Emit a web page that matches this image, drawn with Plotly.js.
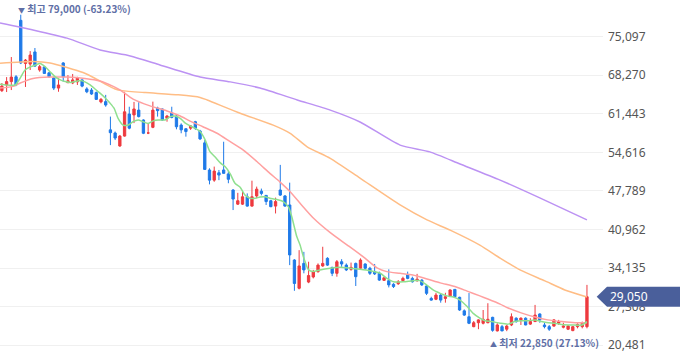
<!DOCTYPE html>
<html><head><meta charset="utf-8">
<script src="https://cdn.plot.ly/plotly-3.0.1.min.js"></script>
<style>html,body{margin:0;padding:0;background:#fff}#chart{width:680px;height:358px}</style>
</head><body><div id="chart"></div>
<script>
// OHLC, one candle per trading day (index 0..124)
const openP  = [65550,66550,67150,68000,78000,70350,70250,72400,69200,69750,68700,67800,66000,70450,66950,66900,67100,67450,65850,65650,65200,63550,63600,58600,58050,55750,57500,61400,61250,62100,60350,58050,59050,62450,62300,60650,61600,61050,59450,58800,58900,60050,58400,56300,51500,49700,51000,51500,50800,47950,45450,45450,46750,45100,46900,47750,47000,46050,45100,47950,46900,45300,35550,30550,34950,31650,32550,33500,34500,35850,34250,33200,35250,34650,33900,34950,34100,34850,34100,33500,33200,31950,31900,31250,31350,31900,32900,32300,31900,32000,30950,28750,28600,29350,28750,29200,30350,28950,26550,25500,23750,24450,24350,24450,25400,23000,23750,23300,24050,25250,24950,25250,24200,24650,26000,24050,23750,23850,24350,23650,23300,23050,23750,23750,23750];
const highP  = [66900,67950,71500,68300,79000,71150,72550,73100,70100,69900,68850,68000,67800,70600,68300,68500,68000,67550,66150,66000,65400,64250,64800,60950,58300,57700,65350,62700,63550,63500,60450,59800,63600,62700,62400,61250,62700,61250,59750,58850,59450,60200,58600,56800,51800,52100,51500,56500,51350,48100,47450,47650,47350,49600,48550,48200,47050,46200,46600,52400,47050,49250,35700,37300,37000,35250,33800,34950,37900,36050,34350,35550,35700,34950,35100,35100,35850,34950,34350,34850,33500,32600,33900,31450,32000,32600,33500,32600,33100,32150,31150,29050,29750,29550,29750,30350,30400,29050,26800,29700,24750,25050,26700,27900,25500,24350,24050,24050,26100,25400,25400,25400,25250,27600,26100,24450,24050,25050,24950,24450,24050,23850,24350,24650,31150];
const lowP   = [65300,65300,65650,66350,70250,66200,69200,69750,68900,68500,67850,65650,65350,67150,66900,66700,66550,66150,65100,64800,63900,63300,62700,55900,56800,55600,57400,58700,59800,60800,57850,57850,58900,60950,60200,60050,60650,58700,58000,57400,58600,58600,56800,51500,48950,49400,49700,50850,49150,44400,45300,45300,45000,45000,46500,47000,45300,44900,43800,46900,45000,34650,30100,30350,33200,31450,32300,33300,34350,34500,32700,32600,34350,33600,33650,30950,33800,33800,32900,32900,31850,31850,30700,30600,31150,31700,32150,31550,31700,30950,29350,28350,28450,28000,28000,29050,28950,26550,25650,24200,23650,23300,24150,24350,22850,22900,22950,22950,23850,24450,24050,24000,24050,24600,24450,23450,23000,23750,24050,23450,23150,22950,23450,23450,23450];
const closeP = [66350,67150,67950,66550,70450,70950,71850,69900,69800,68600,68000,66000,66550,68000,67300,67450,67800,66350,65350,64950,64000,64000,63000,58100,57150,57500,61800,58900,62300,60950,58000,58050,62100,62000,60350,61050,60800,59150,58600,58300,59300,58900,57000,51600,49700,51300,50600,50900,49850,46350,46050,46750,45100,46750,48100,47350,45900,45000,45900,47050,45100,36450,31400,34500,33800,32800,33500,34650,34950,34650,33200,35250,34850,33800,34250,32600,35550,34100,33200,33100,32000,32400,31150,30850,31700,32300,32300,31700,32150,31150,29650,28450,29350,28450,29050,30250,29050,26700,25800,24350,24450,24950,25050,25050,23100,24050,23000,23850,25500,24650,25250,24050,24650,25800,24950,23750,23300,24950,24650,23850,23850,23750,24150,24350,29050];

// Moving averages (position in candle index, price)
const ma5X   = [-0.4,2.8,3.9,4.9,6.0,7.1,8.1,9.2,10.2,11.3,12.4,13.4,14.5,15.5,16.6,17.6,18.7,19.8,20.8,21.9,22.9,23.8,24.6,25.7,26.8,27.8,28.9,29.9,31.0,32.1,33.1,34.6,35.7,36.7,37.8,38.8,39.9,40.9,42.0,43.1,44.1,45.2,46.3,47.3,48.4,49.4,50.5,51.5,52.6,53.7,54.7,55.8,56.8,58.1,59.6,60.7,61.4,62.5,63.2,63.9,65.0,66.0,67.4,69.6,71.7,73.8,75.9,78.0,80.2,81.6,83.0,85.1,87.2,88.6,90.0,91.4,92.9,94.3,95.7,97.1,98.5,99.9,101.3,102.4,103.8,105.6,107.3,108.7,110.2,111.6,113.0,114.4,115.8,117.2,118.6,120.8,122.9,124.0];
const ma5    = [66700,66550,67800,69200,69750,70100,70350,69750,68900,68000,67450,67150,67000,67150,67350,67100,66550,65800,65100,64250,63350,62400,60700,59450,59450,60050,60350,60050,59750,60200,60350,60350,60950,61050,60650,59850,59300,58900,58300,56800,54750,53800,52750,52100,50800,49150,48450,47050,46500,46500,46700,46750,46500,46300,45900,45000,43350,39700,38200,36150,33800,33500,33800,34100,34250,34100,33900,33650,33200,32300,31700,31700,31900,31900,31150,30250,29650,29200,29000,28450,27400,26100,25250,24800,24650,24350,24200,24650,24800,24800,24950,24650,24450,24350,24150,24050,24050,24650];
const ma20X  = [-0.4,2.4,3.9,6.6,10.2,13.8,17.6,20.8,23.6,25.1,27.8,31.4,35.0,37.8,39.9,42.6,45.6,48.4,51.1,54.1,56.8,58.9,61.1,63.2,66.0,69.6,73.2,76.6,79.5,81.6,84.4,87.1,90.1,92.9,96.0,98.6,101.3,103.0,105.6,107.3,110.2,113.0,115.7,118.7,121.5,124.0];
const ma20   = [66000,66300,66900,67700,67950,67950,67700,67250,66300,65650,64050,62850,61950,61050,60150,59150,58000,56500,55050,52950,50900,49400,47650,45600,43000,40400,38200,36100,34150,33500,33200,32900,32200,31500,30850,30050,29200,28650,27750,27050,26150,25450,24950,24650,24450,24450];
const ma60X  = [-0.4,6.6,10.2,13.8,17.2,19.8,21.9,24.0,25.5,30.4,37.4,42.0,43.5,50.5,57.5,61.1,64.7,69.6,75.9,84.4,90.1,95.0,101.3,105.6,109.8,115.1,119.3,124.0];
const ma60   = [70400,70700,70450,69650,68750,67700,66700,65850,65550,65200,64800,64350,63900,61550,59450,58000,55600,53550,50050,45300,42650,40850,38200,35900,33800,31850,30250,29000];
const ma120X = [-0.4,6.6,13.8,20.8,27.2,33.5,42.0,48.4,54.7,62.6,69.6,75.9,84.4,90.7,97.1,105.6,114.0,124.0];
const ma120  = [77550,76300,74850,72750,71700,70100,67950,67100,66000,63900,62100,60000,55900,54700,52550,49700,46550,42650];

const yTicks = [20481,27308,34135,40962,47789,54616,61443,68270,75097];
const lastPrice = 29050, topPrice = 79000, topRate = '-63.23%', lowPrice = 22850, lowRate = '27.13%';

const idx = closeP.map((_, i) => i);
const hiIdx = highP.indexOf(Math.max(...highP));
const loIdx = lowP.indexOf(Math.min(...lowP));
const fmt = v => v.toLocaleString('en-US');

const maLine = (x, y, color) => ({type:'scatter', mode:'lines', x, y, hoverinfo:'skip',
  line:{color, width:1.5, shape:'spline', smoothing:0.6}});

const traces = [
  maLine(ma120X, ma120, '#bc92f3'),
  maLine(ma60X, ma60, '#ffbd85'),
  maLine(ma20X, ma20, '#ffa0a0'),
  maLine(ma5X, ma5, '#8fe08f'),
  {type:'candlestick', x: idx, open: openP, high: highP, low: lowP, close: closeP, hoverinfo:'skip',
   increasing:{line:{color:'#ee3a3f', width:1}, fillcolor:'#ee3a3f'},
   decreasing:{line:{color:'#1f7ae8', width:1}, fillcolor:'#1f7ae8'}}
];

const W = 603; // plot width in px
const tagH = 1770; // half tag height in price units (~10px)
const annFont = {family:'"Noto Sans CJK KR", sans-serif', size:10, color:'#5f6fa6', weight:'bold'};
const layout = {
  width:680, height:358, margin:{l:0, r:77, t:0, b:0},
  paper_bgcolor:'#fff', plot_bgcolor:'#fff', showlegend:false,
  boxgap:0.3,
  xaxis:{range:[-0.4,127.4], visible:false, rangeslider:{visible:false}, fixedrange:true},
  yaxis:{side:'right', range:[18200,81600], tickvals:yTicks, ticktext:yTicks.map(fmt),
    showgrid:true, gridcolor:'#f0f0f0', gridwidth:1, zeroline:false, showline:false, ticks:'',
    ticklabelstandoff:4,
    tickfont:{family:'"Noto Sans", sans-serif', size:12, color:'#555'}},
  shapes:[{type:'path', xref:'paper', yref:'y', layer:'above', line:{width:0}, fillcolor:'#4a5f9b',
    path:`M ${596.7/W},${lastPrice} L ${607/W},${lastPrice+tagH} L ${680/W},${lastPrice+tagH} L ${680/W},${lastPrice-tagH} L ${607/W},${lastPrice-tagH} Z`}],
  annotations:[
    {xref:'paper', yref:'y', x:608/W, y:lastPrice, xanchor:'left', yanchor:'middle', showarrow:false,
     text:fmt(lastPrice), font:{family:'"Noto Sans", sans-serif', size:12, color:'#fff'}},
    {x:hiIdx, y:topPrice, xanchor:'left', yanchor:'middle', xshift:-5, yshift:6, showarrow:false,
     text:`<span style="font-size:7px">▼</span> 최고 ${fmt(topPrice)} (${topRate})`, font:annFont},
    {x:loIdx, y:lowPrice, xanchor:'left', yanchor:'middle', xshift:-5, yshift:-11, showarrow:false,
     text:`<span style="font-size:7px">▲</span> 최저 ${fmt(lowPrice)} (${lowRate})`, font:annFont}
  ]
};
Plotly.newPlot('chart', traces, layout, {staticPlot:true, displayModeBar:false});
</script></body></html>
